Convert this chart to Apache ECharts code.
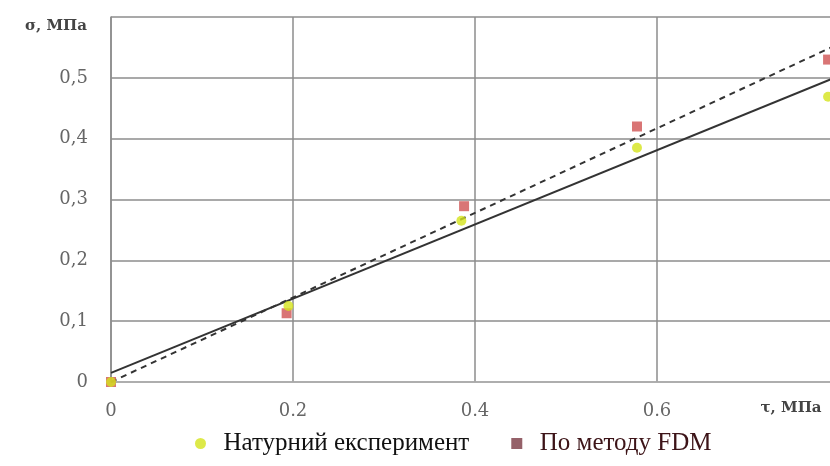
<!DOCTYPE html>
<html>
<head>
<meta charset="utf-8">
<script src="https://cdn.jsdelivr.net/npm/echarts@6/dist/echarts.min.js"></script>
<style>
html,body{margin:0;padding:0;background:#fff;}
#c{width:830px;height:466px;}
</style>
</head>
<body>
<div id="c"></div>
<script>
// Data
var seriesNames = ['Натурний експеримент', 'По методу FDM'];
var experimentPts = [[0, 0], [0.195, 0.125], [0.385, 0.265], [0.578, 0.385], [0.788, 0.469]];
var fdmPts = [[0, 0], [0.193, 0.113], [0.388, 0.289], [0.578, 0.42], [0.788, 0.53]];
var trendSolid = [[0, 0.015], [0.8, 0.503]];
var trendDashed = [[0, 0], [0.8, 0.556]];
var yAxisName = 'σ, МПа';
var xAxisName = 'τ, МПа';

var chart = echarts.init(document.getElementById('c'));
var grid = '#8c8c8c';
chart.setOption({
  animation: false,
  backgroundColor: '#ffffff',
  grid: { left: 111, top: 17, right: -9, bottom: 84, outerBoundsMode: 'none', containLabel: false },
  xAxis: {
    type: 'value', min: 0, max: 0.8, interval: 0.2,
    name: xAxisName, nameLocation: 'end', nameGap: -48,
    nameTextStyle: { fontFamily: 'DejaVu Serif', fontSize: 15, fontWeight: 'bold', color: '#444', align: 'center', verticalAlign: 'top', padding: [19, 0, 0, 0] },
    axisLine: { show: true, lineStyle: { color: '#b0b0b0', width: 1.5 } },
    axisTick: { show: false },
    axisLabel: {
      margin: 20, fontFamily: 'DejaVu Serif', fontSize: 18, color: '#666',
      formatter: function (v) { if (v >= 0.79) return ''; return v === 0 ? '0' : v.toFixed(1); }
    },
    splitLine: { show: true, lineStyle: { color: grid, width: 1.5 } }
  },
  yAxis: {
    type: 'value', min: 0, max: 0.6, interval: 0.1,
    name: yAxisName, nameLocation: 'end', nameGap: -17,
    nameTextStyle: { fontFamily: 'DejaVu Serif', fontSize: 15, fontWeight: 'bold', color: '#444', align: 'right', padding: [0, 24, 0, 0] },
    axisLine: { show: true, lineStyle: { color: grid, width: 1.5 } },
    axisTick: { show: false },
    axisLabel: {
      margin: 23, fontFamily: 'DejaVu Serif', fontSize: 18, color: '#666',
      formatter: function (v) { if (v >= 0.59) return ''; return v === 0 ? '0' : v.toFixed(1).replace('.', ','); }
    },
    splitLine: { show: true, lineStyle: { color: grid, width: 1.5 } }
  },
  legend: {
    left: 190, top: 426, itemGap: 42, itemWidth: 36, itemHeight: 11, symbolKeepAspect: true,
    textStyle: { fontFamily: 'Liberation Serif', fontSize: 25, color: '#111' },
    data: [
      { name: seriesNames[0], icon: 'circle', itemStyle: { color: '#d5e31c' }, textStyle: { color: '#111' } },
      { name: seriesNames[1], icon: 'path://M0,0L10,0L10,10L0,10Z', itemStyle: { color: '#7b3a44' }, textStyle: { color: '#3d1418' } }
    ]
  },
  series: [
    { type: 'line', data: trendDashed, showSymbol: false, symbol: 'none', silent: true,
      lineStyle: { color: '#333', width: 2, type: [6, 5] }, z: 3 },
    { type: 'line', data: trendSolid, showSymbol: false, symbol: 'none', silent: true,
      lineStyle: { color: '#333', width: 2 }, z: 3 },
    { name: seriesNames[1], type: 'scatter', data: fdmPts, symbol: 'rect', symbolSize: 10,
      itemStyle: { color: '#cf5252' }, z: 4 },
    { name: seriesNames[0], type: 'scatter', data: experimentPts, symbol: 'circle', symbolSize: 10,
      itemStyle: { color: '#d5e31c' }, z: 5 }
  ]
});
</script>
</body>
</html>
